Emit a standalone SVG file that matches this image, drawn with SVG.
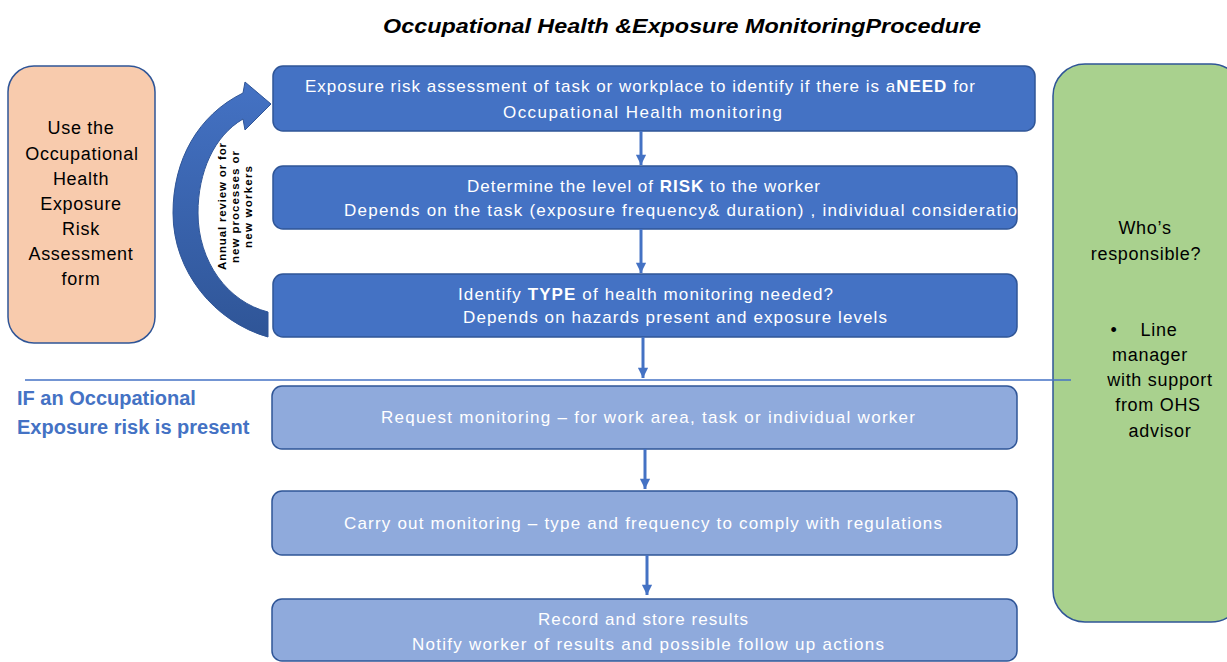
<svg xmlns="http://www.w3.org/2000/svg" width="1227" height="662" viewBox="0 0 1227 662">
<style>
  text { font-family: "Liberation Sans", Arial, sans-serif; }
  .title { font-size: 21px; font-weight: bold; font-style: italic; fill: #000; }
  .dark { fill: #4472C4; stroke: #2F5597; stroke-width: 1.5; }
  .light { fill: #8FAADC; stroke: #2F5597; stroke-width: 1.5; }
  .wt { fill: #fff; font-size: 17px; }
  .bk { fill: #000; font-size: 18px; letter-spacing: 0.7px; text-anchor: middle; }
  .conn { stroke: #4472C4; stroke-width: 3; fill: none; marker-end: url(#ah); }
  .side { fill: #4472C4; font-size: 20px; font-weight: bold; }
  .rot { fill: #000; font-size: 11.5px; font-weight: bold; }
</style>
<defs>
  <marker id="ah" viewBox="0 0 10 10" markerWidth="3.7" markerHeight="3.4" refX="10" refY="5" orient="auto" markerUnits="strokeWidth">
    <path d="M0,0 L10,5 L0,10 Z" fill="#4472C4"/>
  </marker>
  <linearGradient id="cg" x1="0" y1="0" x2="0" y2="1">
    <stop offset="0" stop-color="#4472C4"/>
    <stop offset="1" stop-color="#2F5597"/>
  </linearGradient>
  <clipPath id="c2"><rect x="273" y="166" width="744" height="63"/></clipPath>
</defs>

<text class="title" x="682" y="33" text-anchor="middle" textLength="598" lengthAdjust="spacingAndGlyphs">Occupational Health &amp;Exposure MonitoringProcedure</text>

<g id="form">
  <rect x="8" y="66" width="147" height="277" rx="26" fill="#F8CBAD" stroke="#2F5597" stroke-width="1.5"/>
  <text class="bk" x="81" y="134">Use the</text>
  <text class="bk" x="82" y="160">Occupational</text>
  <text class="bk" x="81" y="185">Health</text>
  <text class="bk" x="81" y="210">Exposure</text>
  <text class="bk" x="81" y="235">Risk</text>
  <text class="bk" x="81" y="260">Assessment</text>
  <text class="bk" x="81" y="285">form</text>
</g>

<g id="review">
  <path d="M268,337 C215,322 173,272 173,213 C173,160 198,115 243,93 L245,82 L271,104 L245,130 L243,119 C214,136 198,172 198,213 C198,262 228,302 268,312 Z" fill="url(#cg)" stroke="#2F5597" stroke-width="1"/>
  <g transform="rotate(-90)">
    <text class="rot" x="-270" y="226" textLength="127" lengthAdjust="spacing">Annual review or for</text>
    <text class="rot" x="-263" y="239" textLength="112" lengthAdjust="spacing">new processes or</text>
    <text class="rot" x="-248" y="252" textLength="82" lengthAdjust="spacing">new workers</text>
  </g>
</g>

<g id="step1">
  <rect class="dark" x="273" y="66" width="762" height="65" rx="10"/>
  <text class="wt" x="305" y="92" textLength="670" lengthAdjust="spacing">Exposure risk assessment of task or workplace to identify if there is a<tspan font-weight="bold">NEED</tspan> for</text>
  <text class="wt" x="503" y="118" textLength="279" lengthAdjust="spacing">Occupational Health monitoring</text>
</g>

<g id="step2">
  <rect class="dark" x="273" y="166" width="744" height="63" rx="10"/>
  <text class="wt" x="467" y="192" textLength="353" lengthAdjust="spacing">Determine the level of  <tspan font-weight="bold">RISK</tspan>  to the worker</text>
  <g clip-path="url(#c2)">
    <text class="wt" x="344" y="216" textLength="673" lengthAdjust="spacing">Depends on the task (exposure frequency&amp; duration) , individual consideratio</text>
  </g>
</g>

<g id="step3">
  <rect class="dark" x="273" y="274" width="744" height="63" rx="10"/>
  <text class="wt" x="458" y="300" textLength="375" lengthAdjust="spacing">Identify <tspan font-weight="bold">TYPE</tspan> of health monitoring needed?</text>
  <text class="wt" x="463" y="323" textLength="424" lengthAdjust="spacing">Depends on hazards present and exposure levels</text>
</g>

<g id="step4">
  <rect class="light" x="272" y="386" width="745" height="63" rx="10"/>
  <text class="wt" x="381" y="423" textLength="534" lengthAdjust="spacing">Request monitoring – for work area, task or individual worker</text>
</g>

<g id="step5">
  <rect class="light" x="272" y="491" width="745" height="64" rx="10"/>
  <text class="wt" x="344" y="529" textLength="598" lengthAdjust="spacing">Carry out monitoring – type and frequency to comply with regulations</text>
</g>

<g id="step6">
  <rect class="light" x="272" y="599" width="745" height="62" rx="10"/>
  <text class="wt" x="538" y="625" textLength="210" lengthAdjust="spacing">Record and store results</text>
  <text class="wt" x="412" y="650" textLength="472" lengthAdjust="spacing">Notify worker of results and possible follow up actions</text>
</g>

<g id="responsible">
  <rect x="1053" y="64" width="190" height="558" rx="32" fill="#A9D18E" stroke="#2F5597" stroke-width="1.5"/>
  <text class="bk" x="1145" y="234">Who’s</text>
  <text class="bk" x="1146" y="260">responsible?</text>
  <text class="bk" x="1114" y="336">•</text>
  <text class="bk" x="1159" y="336">Line</text>
  <text class="bk" x="1150" y="361">manager</text>
  <text class="bk" x="1160" y="386">with support</text>
  <text class="bk" x="1158" y="411">from OHS</text>
  <text class="bk" x="1160" y="437">advisor</text>
</g>

<g id="threshold">
  <line x1="25" y1="380" x2="1071" y2="380" stroke="#4472C4" stroke-width="1.5"/>
  <text class="side" x="17" y="405">IF an Occupational</text>
  <text class="side" x="17" y="434">Exposure risk is present</text>
</g>

<g id="connectors">
  <line class="conn" x1="641" y1="131" x2="641" y2="165"/>
  <line class="conn" x1="641" y1="229" x2="641" y2="273"/>
  <line class="conn" x1="643" y1="337" x2="643" y2="378"/>
  <line class="conn" x1="645" y1="449" x2="645" y2="489"/>
  <line class="conn" x1="647" y1="555" x2="647" y2="595"/>
</g>
</svg>
